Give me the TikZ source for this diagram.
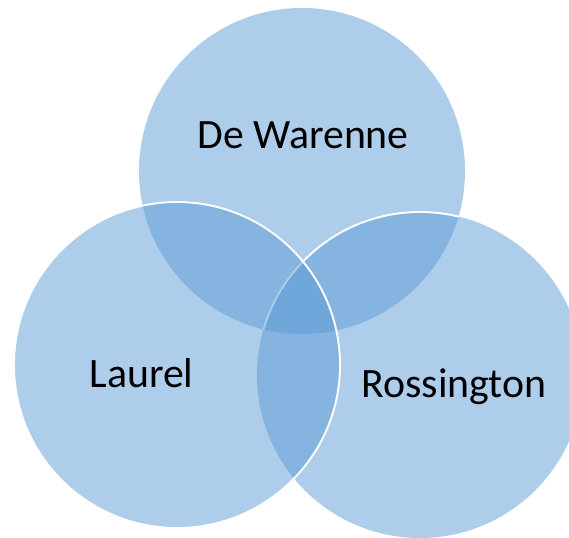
\documentclass[tikz,border=0pt]{standalone}
\usepackage{fontspec}
\setmainfont{Carlito}
\definecolor{vennblue}{HTML}{5B9BD5}
\tikzset{
  venn/.style={fill=vennblue, fill opacity=0.5, draw=none},
  rim/.style={draw=white, line width=1.9pt},
  lbl/.style={anchor=base, font=\fontsize{41.8}{50}\selectfont, text=black}
}
\begin{document}
\begin{tikzpicture}[x=1pt,y=-1pt]
\useasboundingbox (0,0) rectangle (569,537);
\clip (0,0) rectangle (569,537);
\coordinate (ct) at (302,171);
\coordinate (cl) at (177,365);
\coordinate (cr) at (420,375);
% top circle
\fill[venn] (ct) circle[radius=163pt];
% right circle
\fill[venn] (cr) circle[radius=163pt];
\begin{scope}
  \clip (ct) circle[radius=163pt];
  \draw[rim] (cr) circle[radius=163pt];
\end{scope}
% left circle
\fill[venn] (cl) circle[radius=163pt];
\draw[rim] (cl) circle[radius=163pt];
% labels
\node[lbl] (t) at (303,149) {De Warenne};
\node[lbl] (l) at (141.5,387) {Laurel};
\node[lbl] (r) at (454,397) {Rossington};
\end{tikzpicture}
\end{document}
